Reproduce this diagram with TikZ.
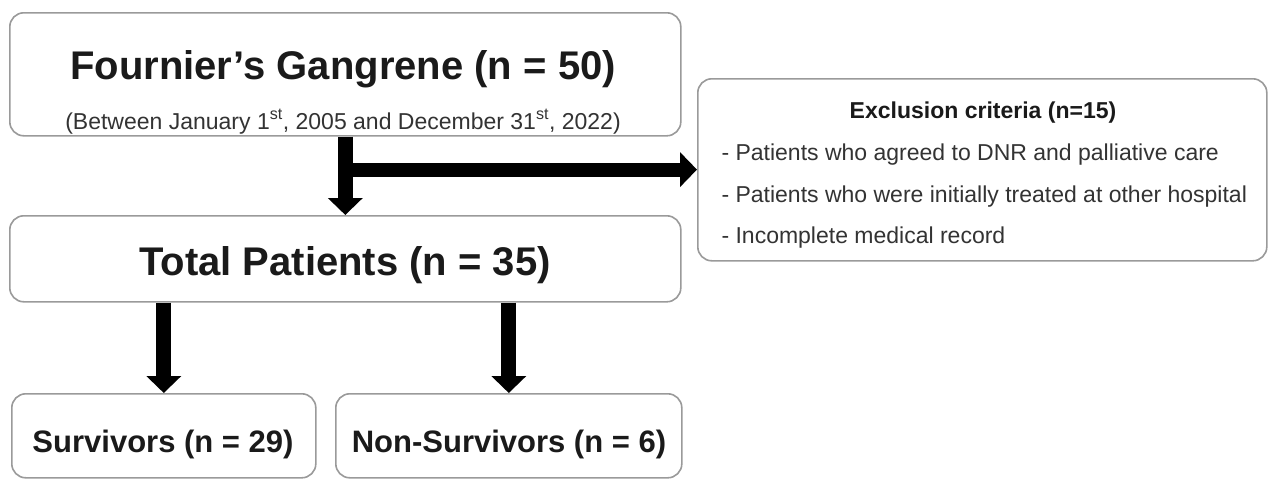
\documentclass[tikz,border=0pt]{standalone}
\usepackage{fontspec}
\setmainfont{Liberation Sans}
\usetikzlibrary{arrows.meta,calc}
\definecolor{boxgray}{HTML}{9A9A9A}
\definecolor{txt}{HTML}{1A1A1A}
\definecolor{txtsub}{HTML}{333333}
\begin{document}
\begin{tikzpicture}[x=1pt,y=-1pt,
  box/.style={draw=boxgray, line width=1.6pt, rounded corners=14pt, fill=white,
    inner sep=0pt, anchor=north west},
  bigarrow/.style={draw=black, line width=15pt, -{Triangle[width=34pt,length=17pt]}},
  hugefont/.style={font=\fontsize{40}{48}\selectfont\bfseries, text=txt},
  midfont/.style={font=\fontsize{31}{37}\selectfont\bfseries, text=txt},
  subfont/.style={font=\fontsize{23}{28}\selectfont, text=txtsub},
  headfont/.style={font=\fontsize{23}{28}\selectfont\bfseries, text=txt},
  linefont/.style={font=\fontsize{23}{28}\selectfont, text=txtsub}]
\fill[white] (0,0) rectangle (1270,482);
\useasboundingbox (0,0) rectangle (1270,482);

% boxes
\node[box, minimum width=671pt, minimum height=123pt] (top) at (9,12) {};
\node[box, minimum width=569pt, minimum height=182pt] (excl) at (697,78) {};
\node[box, minimum width=671pt, minimum height=86pt] (total) at (9,215) {};
\node[box, minimum width=304pt, minimum height=84pt] (surv) at (11,393) {};
\node[box, minimum width=346pt, minimum height=84pt] (nons) at (335,393) {};

% texts
\node[hugefont, anchor=base] (ttitle) at (343,79) {Fournier’s Gangrene (n = 50)};
\node[subfont, anchor=base] (tsub) at (343,129) {(Between January 1\textsuperscript{st}, 2005 and December 31\textsuperscript{st}, 2022)};
\node[hugefont, anchor=base] (ttotal) at (345,275) {Total Patients (n = 35)};
\node[midfont, anchor=base] (tsurv) at (163,452) {Survivors (n = 29)};
\node[midfont, anchor=base] (tnons) at (509,452) {Non-Survivors (n = 6)};
\node[headfont, anchor=base] (thead) at (983,118) {Exclusion criteria (n=15)};
\node[linefont, anchor=base west] (l1) at (718,160) {- Patients who agreed to DNR and palliative care};
\node[linefont, anchor=base west] (l2) at (718,202) {- Patients who were initially treated at other hospital};
\node[linefont, anchor=base west] (l3) at (718,243) {- Incomplete medical record};

% arrows
\coordinate (j) at ($(top.south)+(0,33)$);
\draw[bigarrow] (top.south) -- (total.north);
\draw[bigarrow, line width=14pt] (j) -- (j -| excl.west);
\draw[bigarrow] (total.south -| surv.north) -- (surv.north);
\draw[bigarrow] (total.south -| nons.north) -- (nons.north);
\end{tikzpicture}
\end{document}
